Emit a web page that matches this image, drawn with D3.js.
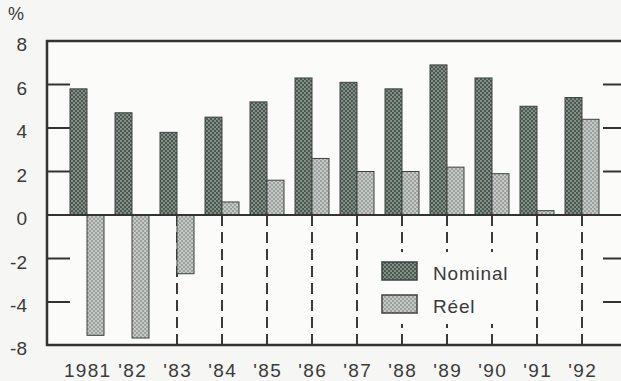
<!DOCTYPE html>
<html><head><meta charset="utf-8">
<script src="https://cdn.jsdelivr.net/npm/d3@7"></script>
<style>
html,body{margin:0;padding:0;background:#f6f6f4;}
svg{display:block;}
text{font-family:"Liberation Sans",Arial,sans-serif;fill:#3a3a3a;}
</style></head>
<body><svg id="c" width="621" height="381"></svg>
<script>
const categories = ["1981","'82","'83","'84","'85","'86","'87","'88","'89","'90","'91","'92"];
const nominal = [5.8, 4.7, 3.8, 4.5, 5.2, 6.3, 6.1, 5.8, 6.9, 6.3, 5.0, 5.4];
const reel    = [-7.1, -7.35, -2.7, 0.6, 1.6, 2.6, 2.0, 2.0, 2.2, 1.9, 0.2, 4.4];
const seriesNames = ["Nominal", "Réel"];
const yTickValues = [8, 6, 4, 2, 0, -2, -4, -8];
const yTickLabels = ["8","6","4","2","0","-2","-4","-8"];

(function () {
const svg = d3.select("#c");
const pL = 47, pT = 41, pB = 345, pR = 626;

// axis as printed: -8 label sits where the even step would be
const y = d3.scaleLinear().domain([-8, -4, 8]).range([pB, 302, pT]);
const x0 = d3.scaleBand().domain(categories).range([64.5, 604.5]).padding(0);
const x1 = d3.scaleBand().domain(seriesNames).range([-17, 17]).padding(0);
const xc = c => x0(c) + x0.bandwidth() / 2;

// patterns
const defs = svg.append("defs");
function dotPattern(id, bg, dot, size) {
  const p = defs.append("pattern").attr("id", id).attr("patternUnits", "userSpaceOnUse")
    .attr("width", size).attr("height", size);
  p.append("rect").attr("width", size).attr("height", size).attr("fill", bg);
  p.append("circle").attr("cx", size/4).attr("cy", size/4).attr("r", 0.75).attr("fill", dot);
  p.append("circle").attr("cx", 3*size/4).attr("cy", 3*size/4).attr("r", 0.75).attr("fill", dot);
}
dotPattern("pNom", "#4a5a50", "#d8ddd8", 4);
dotPattern("pReel", "#c6cac6", "#5d635f", 4);
const fills = {"Nominal": "url(#pNom)", "Réel": "url(#pReel)"};

// plot background
svg.append("rect").attr("x", pL).attr("y", pT).attr("width", pR - pL).attr("height", pB - pT)
  .attr("fill", "#fbfbfa");

// dashed guide lines
const g = svg.append("g");
g.selectAll("line.guide").data(categories.filter((c, i) => reel[i] > -6)).join("line")
  .attr("class", "guide")
  .attr("x1", c => xc(c)).attr("x2", c => xc(c))
  .attr("y1", y(0)).attr("y2", pB)
  .attr("stroke", "#3a3a3a").attr("stroke-width", 2).attr("stroke-dasharray", "11,6");

// axis ticks (left & right, inward)
const tickVals = yTickValues.filter(v => v !== 8 && v !== 0 && v !== -8);
g.selectAll("line.tl").data(tickVals).join("line").attr("class", "tl")
  .attr("x1", pL).attr("x2", pL + 23).attr("y1", d => y(d)).attr("y2", d => y(d))
  .attr("stroke", "#333").attr("stroke-width", 2);
g.selectAll("line.tr").data(tickVals).join("line").attr("class", "tr")
  .attr("x1", pR - 23).attr("x2", pR).attr("y1", d => y(d)).attr("y2", d => y(d))
  .attr("stroke", "#333").attr("stroke-width", 2);

// bars
const rows = categories.map((c, i) => ({c, vals: [{s: "Nominal", v: nominal[i]}, {s: "Réel", v: reel[i]}]}));
const bars = svg.append("g").selectAll("g").data(rows).join("g")
  .attr("transform", d => `translate(${xc(d.c)},0)`);
bars.selectAll("rect").data(d => d.vals).join("rect")
  .attr("x", d => x1(d.s)).attr("width", x1.bandwidth())
  .attr("y", d => y(Math.max(0, d.v))).attr("height", d => Math.abs(y(d.v) - y(0)))
  .attr("fill", d => fills[d.s]).attr("stroke", "#3c433f").attr("stroke-width", 1);

// frame
svg.append("path")
  .attr("d", `M${pR},${pT}H${pL}V${pB}H${pR}`)
  .attr("fill", "none").attr("stroke", "#333").attr("stroke-width", 2.5);
svg.append("line").attr("x1", pL).attr("x2", pR).attr("y1", y(0)).attr("y2", y(0))
  .attr("stroke", "#333").attr("stroke-width", 2);

// y labels
svg.append("g").selectAll("text").data(yTickValues).join("text")
  .attr("x", 27).attr("y", d => y(d) + 10).attr("text-anchor", "end")
  .attr("font-size", 19).text((d, i) => yTickLabels[i]);
svg.append("text").attr("x", 8).attr("y", 20).attr("font-size", 18).text("%");

// x labels
svg.append("g").selectAll("text").data(categories).join("text")
  .attr("x", c => xc(c) + 0.7).attr("y", 377).attr("text-anchor", "middle")
  .attr("font-size", 19).attr("letter-spacing", 1.3).text(c => c);

// legend
const lg = svg.append("g");
lg.append("rect").attr("x", 372).attr("y", 252).attr("width", 145).attr("height", 72).attr("fill", "#fbfbfa");
seriesNames.forEach((s, i) => {
  const yy = 262 + i * 33;
  lg.append("rect").attr("x", 382).attr("y", yy).attr("width", 35).attr("height", 18)
    .attr("fill", fills[s]).attr("stroke", "#3c433f").attr("stroke-width", 1.5);
  lg.append("text").attr("x", 433).attr("y", yy + 18).attr("font-size", 19)
    .attr("letter-spacing", 0.8).text(s);
});
})();
</script></body></html>
